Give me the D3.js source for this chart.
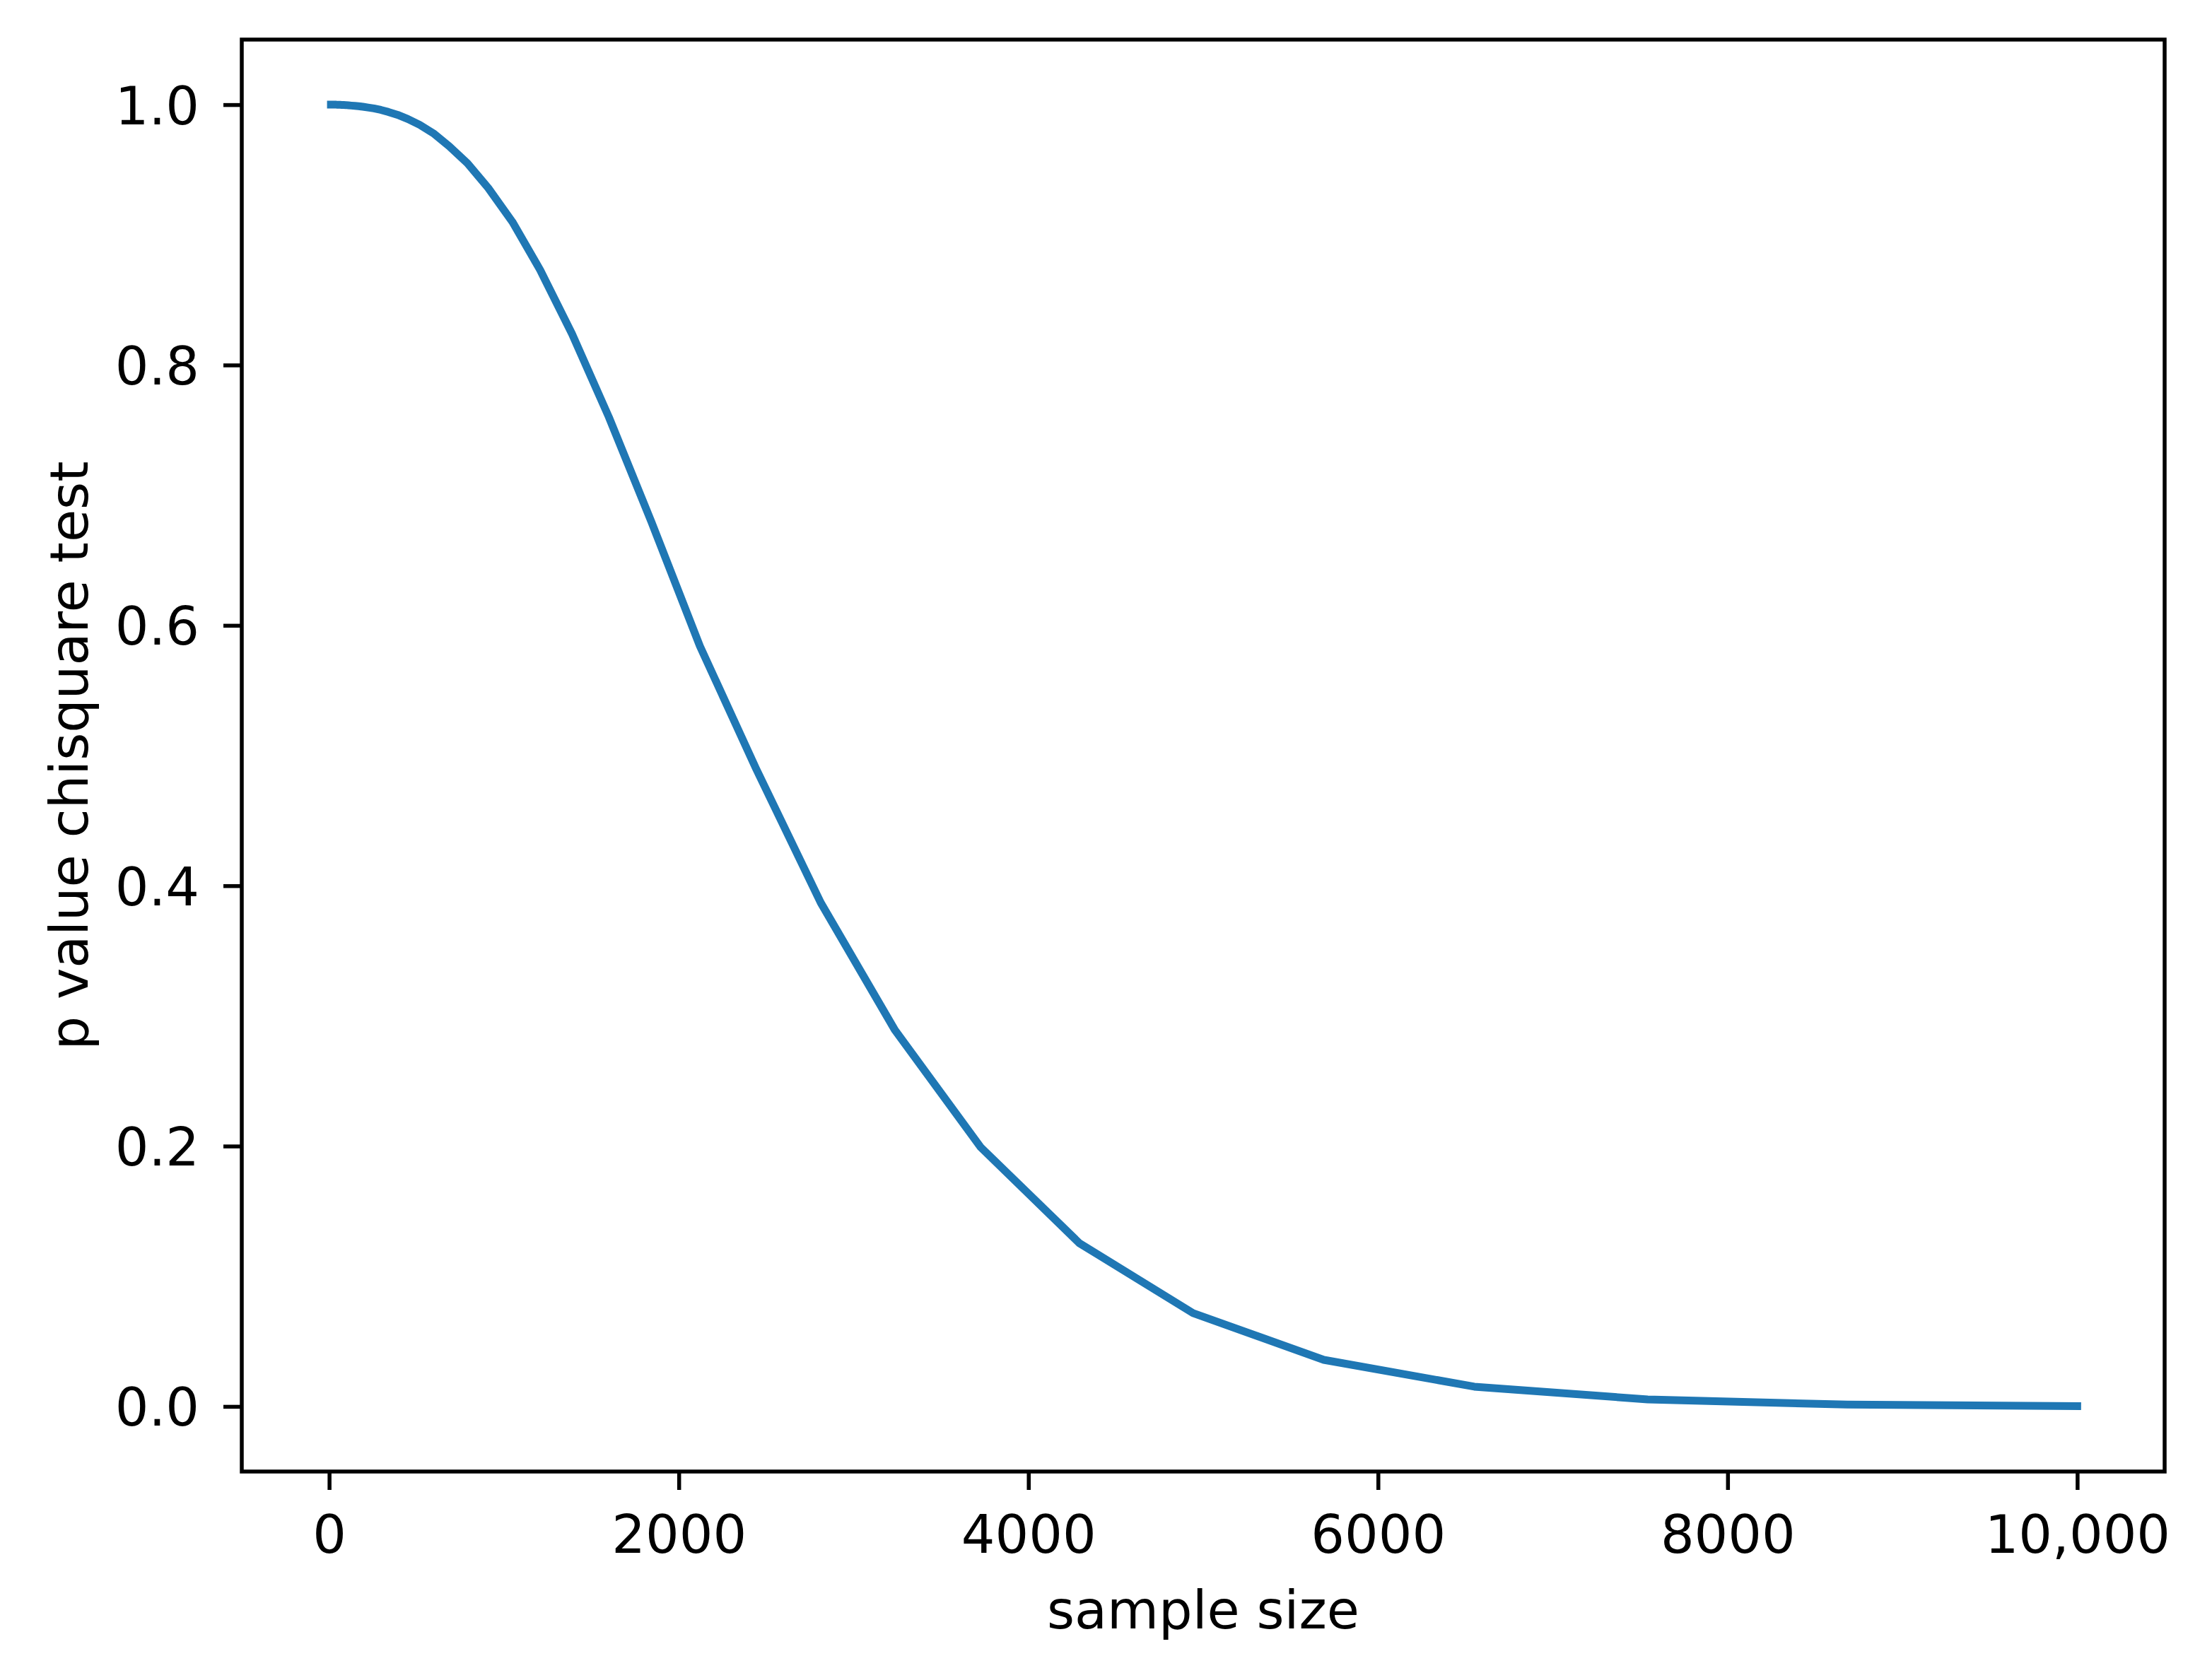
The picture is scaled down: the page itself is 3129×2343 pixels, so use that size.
<!DOCTYPE html>
<html>
<head>
<meta charset="utf-8">
<script src="https://cdn.jsdelivr.net/npm/d3@7"></script>
<style>
  html, body { margin: 0; padding: 0; background: #fff; }
  svg { display: block; }
  text { font-family: "DejaVu Sans", sans-serif; fill: #000; }
</style>
</head>
<body>
<svg id="chart" width="3129" height="2343"></svg>
<script>
// ---- data ----
const sampleSizes = [10, 11.5, 13.3, 15.3, 17.6, 20.2, 23.3, 26.8, 30.9, 35.6,
  40.9, 47.1, 54.3, 62.5, 72.0, 82.9, 95.4, 110, 126, 146,
  168, 193, 222, 256, 295, 339, 391, 450, 518, 596,
  687, 791, 910, 1048, 1207, 1389, 1600, 1842, 2121, 2442,
  2812, 3237, 3728, 4292, 4942, 5690, 6551, 7543, 8685, 10000];
const pValues = [1.0, 1.0, 1.0, 1.0, 1.0, 1.0, 1.0, 1.0, 1.0, 1.0,
  1.0, 0.9999, 0.9999, 0.9999, 0.9998, 0.9998, 0.9997, 0.9995, 0.9993, 0.9991,
  0.9988, 0.9984, 0.9978, 0.9971, 0.9960, 0.9944, 0.9922, 0.9890, 0.9845, 0.978,
  0.968, 0.955, 0.936, 0.910, 0.873, 0.824, 0.760, 0.680, 0.584, 0.490,
  0.387, 0.289, 0.199, 0.1254, 0.0717, 0.0358, 0.0152, 0.0054, 0.0014, 0.0003];
const xTicks = [0, 2000, 4000, 6000, 8000, 10000];
const xTickLabels = ["0", "2000", "4000", "6000", "8000", "10,000"];
const yTicks = [0.0, 0.2, 0.4, 0.6, 0.8, 1.0];
const yTickLabels = ["0.0", "0.2", "0.4", "0.6", "0.8", "1.0"];
const xLabel = "sample size";
const yLabel = "p value chisquare test";

// ---- layout ----
const W = 3129, H = 2343;
const L = 342, T = 56, R = 3062, B = 2082;
const FS = 75;

const svg = d3.select("#chart");

const x = d3.scaleLinear().domain([-500, 10500]).range([L, R]);
const y = d3.scaleLinear().domain([-0.05, 1.05]).range([B, T]);

// line
const line = d3.line().x((d, i) => x(sampleSizes[i])).y(d => y(d));
svg.append("path")
  .datum(pValues)
  .attr("d", line)
  .attr("fill", "none")
  .attr("stroke", "#1f77b4")
  .attr("stroke-width", 11)
  .attr("stroke-linecap", "square")
  .attr("stroke-linejoin", "round");

// axes
const xAxis = d3.axisBottom(x)
  .tickValues(xTicks)
  .tickFormat((d, i) => xTickLabels[i])
  .tickSize(26).tickPadding(36);
const gx = svg.append("g").attr("transform", `translate(0,${B})`).call(xAxis);
gx.select(".domain").remove();
gx.selectAll(".tick line").attr("stroke", "#000").attr("stroke-width", 5.5);
gx.selectAll(".tick text").attr("font-size", FS).attr("font-family", "DejaVu Sans").attr("fill", "#000");

const yAxis = d3.axisLeft(y)
  .tickValues(yTicks)
  .tickFormat((d, i) => yTickLabels[i])
  .tickSize(26).tickPadding(34);
const gy = svg.append("g").attr("transform", `translate(${L},0)`).call(yAxis);
gy.select(".domain").remove();
gy.selectAll(".tick line").attr("stroke", "#000").attr("stroke-width", 5.5);
gy.selectAll(".tick text").attr("font-size", FS).attr("font-family", "DejaVu Sans").attr("fill", "#000").attr("dy", "0.36em");

// frame
svg.append("rect")
  .attr("x", L).attr("y", T)
  .attr("width", R - L).attr("height", B - T)
  .attr("fill", "none")
  .attr("stroke", "#000")
  .attr("stroke-width", 5.5)
  .attr("stroke-linejoin", "miter");

// axis labels
svg.append("text")
  .attr("x", (L + R) / 2).attr("y", 2304)
  .attr("text-anchor", "middle")
  .attr("font-size", FS)
  .text(xLabel);

svg.append("text")
  .attr("transform", `translate(124,${(T + B) / 2}) rotate(-90)`)
  .attr("text-anchor", "middle")
  .attr("font-size", FS)
  .text(yLabel);
</script>
</body>
</html>
